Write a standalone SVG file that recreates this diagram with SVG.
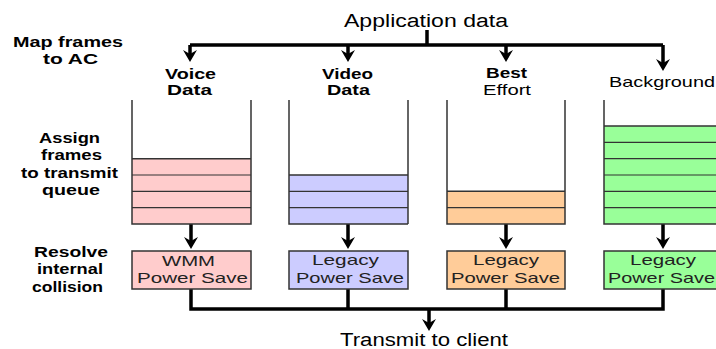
<svg xmlns="http://www.w3.org/2000/svg" xmlns:xlink="http://www.w3.org/1999/xlink" width="716" height="349" viewBox="0 0 716 349">
  <style>
    text { font-family: "Liberation Sans", Arial, sans-serif; fill: #000; }
    .step { font-size: 15px; font-weight: bold; }
    .ac { font-size: 15px; font-weight: bold; }
    .ac-n { font-size: 15px; font-weight: normal; }
    .box-t { font-size: 15px; fill: #222; }
    .big { font-size: 18px; }
    .wall { stroke: #333; stroke-width: 1.5; fill: none; }
    .row { stroke: #333; stroke-width: 1.2; }
    .box { stroke: #333; stroke-width: 1.5; }
    .conn { stroke: #000; stroke-width: 3.5; fill: none; }
    .pink { fill: #FFCCCC; }
    .blue { fill: #CCCCFF; }
    .orange { fill: #FFCC99; }
    .green { fill: #99FF99; }
  </style>
  <defs>
    <!-- downward arrowhead, tip at origin -->
    <path id="ah" d="M-7,-12 L0,0 L7,-12 L0,-8 Z" fill="#000"/>
  </defs>
  <rect width="716" height="349" fill="#fff"/>

  <!-- connectors -->
  <g id="connectors">
    <!-- application data fan-out -->
    <path class="conn" d="M427,30 V45 M190,45 H663 M190,45 V55 M348,45 V55 M506,45 V55 M663,45 V64"/>
    <use xlink:href="#ah" x="190" y="62"/>
    <use xlink:href="#ah" x="348" y="62"/>
    <use xlink:href="#ah" x="506" y="62"/>
    <use xlink:href="#ah" x="663" y="71"/>
    <!-- queue to power-save stage -->
    <path class="conn" d="M191,224 V242 M348,224 V242 M506,224 V242 M663,224 V242"/>
    <use xlink:href="#ah" x="191" y="249"/>
    <use xlink:href="#ah" x="348" y="249"/>
    <use xlink:href="#ah" x="506" y="249"/>
    <use xlink:href="#ah" x="663" y="249"/>
    <!-- merge to client -->
    <path class="conn" d="M191,289 V309 M348,289 V309 M506,289 V309 M663,289 V309 M189.25,309 H664.75 M429,309 V323"/>
    <use xlink:href="#ah" x="429" y="331"/>
  </g>

  <!-- step labels -->
  <g id="step-map">
    <text class="step" x="13" y="47" textLength="110" lengthAdjust="spacingAndGlyphs">Map frames</text>
    <text class="step" x="43" y="63.5" textLength="55" lengthAdjust="spacingAndGlyphs">to AC</text>
  </g>
  <g id="step-assign">
    <text class="step" x="39" y="142.5" textLength="61" lengthAdjust="spacingAndGlyphs">Assign</text>
    <text class="step" x="41" y="160" textLength="61" lengthAdjust="spacingAndGlyphs">frames</text>
    <text class="step" x="21" y="177.5" textLength="97" lengthAdjust="spacingAndGlyphs">to transmit</text>
    <text class="step" x="42" y="195" textLength="58" lengthAdjust="spacingAndGlyphs">queue</text>
  </g>
  <g id="step-resolve">
    <text class="step" x="34" y="257" textLength="74" lengthAdjust="spacingAndGlyphs">Resolve</text>
    <text class="step" x="37" y="274" textLength="66" lengthAdjust="spacingAndGlyphs">internal</text>
    <text class="step" x="32" y="291.5" textLength="71" lengthAdjust="spacingAndGlyphs">collision</text>
  </g>

  <g id="app-data">
    <text class="big" x="344" y="27" textLength="164" lengthAdjust="spacingAndGlyphs">Application data</text>
  </g>

  <!-- Voice access category -->
  <g id="ac-voice">
    <text class="ac" x="165" y="79" textLength="51" lengthAdjust="spacingAndGlyphs">Voice</text>
    <text class="ac" x="167" y="95" textLength="45" lengthAdjust="spacingAndGlyphs">Data</text>
    <rect class="pink" x="132" y="158.7" width="119" height="65.3"/>
    <path class="row" d="M132,175 H251 M132,191.3 H251 M132,207.7 H251"/>
    <path class="wall" d="M132,100 V224 H251 V100 M132,158.7 H251"/>
    <rect class="box pink" x="132" y="251" width="119" height="38"/>
    <text class="box-t" x="162" y="266" textLength="53" lengthAdjust="spacingAndGlyphs">WMM</text>
    <text class="box-t" x="137" y="283" textLength="111" lengthAdjust="spacingAndGlyphs">Power Save</text>
  </g>

  <!-- Video access category -->
  <g id="ac-video">
    <text class="ac" x="322" y="79" textLength="51" lengthAdjust="spacingAndGlyphs">Video</text>
    <text class="ac" x="327" y="95" textLength="43" lengthAdjust="spacingAndGlyphs">Data</text>
    <rect class="blue" x="289" y="175" width="119" height="49"/>
    <path class="row" d="M289,191.3 H408 M289,207.7 H408"/>
    <path class="wall" d="M289,100 V224 H408 M289,175 H408"/>
    <path class="wall" d="M408,100 V224" stroke-width="2.5"/>
    <rect class="box blue" x="289" y="251" width="119" height="38"/>
    <text class="box-t" x="312" y="265" textLength="67" lengthAdjust="spacingAndGlyphs">Legacy</text>
    <text class="box-t" x="296" y="283" textLength="108" lengthAdjust="spacingAndGlyphs">Power Save</text>
  </g>

  <!-- Best effort access category -->
  <g id="ac-best-effort">
    <text class="ac" x="486" y="78" textLength="41" lengthAdjust="spacingAndGlyphs">Best</text>
    <text class="ac-n" x="483" y="95" textLength="48" lengthAdjust="spacingAndGlyphs">Effort</text>
    <rect class="orange" x="447" y="191.3" width="118" height="32.7"/>
    <path class="row" d="M447,207.7 H565"/>
    <path class="wall" d="M447,100 V224 H565 V100 M447,191.3 H565"/>
    <rect class="box orange" x="447" y="251" width="118" height="38"/>
    <text class="box-t" x="473" y="265" textLength="66" lengthAdjust="spacingAndGlyphs">Legacy</text>
    <text class="box-t" x="451" y="283" textLength="109" lengthAdjust="spacingAndGlyphs">Power Save</text>
  </g>

  <!-- Background access category -->
  <g id="ac-background">
    <text class="ac-n" x="609" y="87" textLength="106" lengthAdjust="spacingAndGlyphs">Background</text>
    <rect class="green" x="604" y="126" width="119" height="98"/>
    <path class="row" d="M604,142.3 H723 M604,158.7 H723 M604,175 H723 M604,191.3 H723 M604,207.7 H723"/>
    <path class="wall" d="M604,100 V224 H723 M604,126 H723"/>
    <rect class="box green" x="604" y="251" width="119" height="38"/>
    <text class="box-t" x="630" y="265" textLength="66" lengthAdjust="spacingAndGlyphs">Legacy</text>
    <text class="box-t" x="608" y="283" textLength="107" lengthAdjust="spacingAndGlyphs">Power Save</text>
  </g>

  <g id="transmit">
    <text class="big" font-size="17" x="340" y="346" textLength="168" lengthAdjust="spacingAndGlyphs">Transmit to client</text>
  </g>
</svg>
